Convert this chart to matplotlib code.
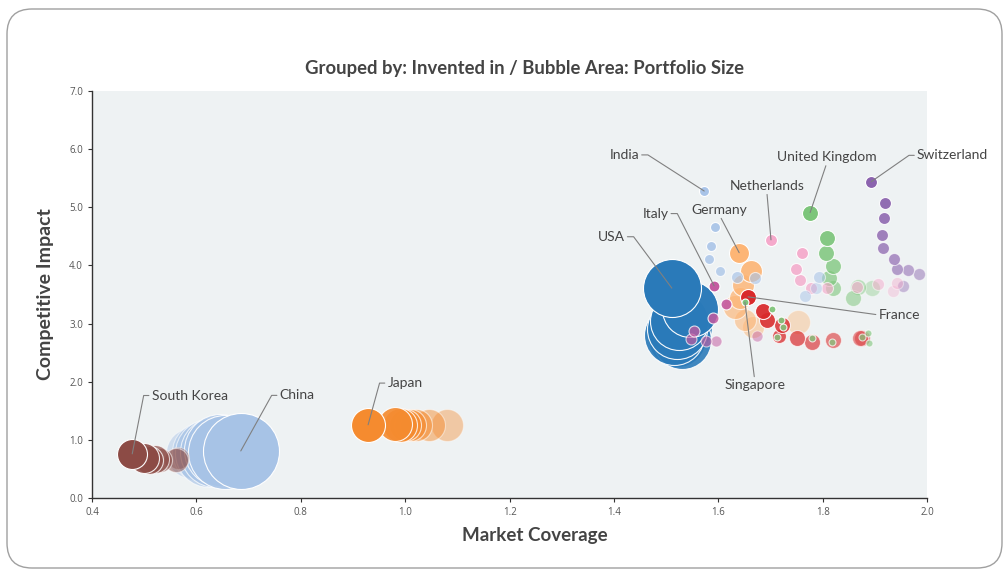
import numpy as np
import matplotlib
matplotlib.use("Agg")
import matplotlib.pyplot as plt
from matplotlib.patches import FancyBboxPatch

plt.rcParams["font.family"] = ["Lato", "DejaVu Sans"]

# ---- data: one small set of arrays per "invented in" group ----
usa_x = [1.511, 1.545, 1.525, 1.52, 1.515, 1.53, 1.52, 1.535]
usa_y = [3.61, 3.25, 3.05, 2.90, 2.80, 2.72, 2.75, 2.95]
usa_size = [841, 784, 841, 900, 900, 841, 841, 784]

china_x = [0.685, 0.655, 0.645, 0.635, 0.625, 0.61, 0.59]
china_y = [0.81, 0.80, 0.82, 0.80, 0.78, 0.80, 0.78]
china_size = [1444, 1369, 1296, 1225, 1156, 900, 625]

korea_x = [0.477, 0.50, 0.51, 0.52, 0.53, 0.56, 0.565]
korea_y = [0.76, 0.68, 0.66, 0.67, 0.65, 0.65, 0.68]
korea_size = [225, 225, 196, 196, 144, 144, 121]

japan_x = [0.929, 0.98, 0.99, 1.0, 1.01, 1.02, 1.045, 1.08]
japan_y = [1.26, 1.27, 1.26, 1.26, 1.25, 1.26, 1.25, 1.26]
japan_size = [289, 289, 289, 256, 256, 256, 256, 256]

india_x = [1.573, 1.594, 1.586, 1.582, 1.603, 1.636, 1.670, 1.793, 1.766, 1.787]
india_y = [5.28, 4.66, 4.34, 4.11, 3.91, 3.80, 3.79, 3.80, 3.48, 3.61]
india_size = [25, 25, 25, 25, 25, 36, 36, 36, 36, 36]

germany_x = [1.640, 1.663, 1.647, 1.642, 1.632, 1.651, 1.667, 1.753]
germany_y = [4.22, 3.91, 3.67, 3.44, 3.29, 3.06, 2.94, 3.03]
germany_size = [100, 121, 121, 121, 144, 121, 121, 144]

france_x = [1.657, 1.686, 1.693, 1.722, 1.716, 1.751, 1.78, 1.82, 1.872, 1.876]
france_y = [3.46, 3.22, 3.06, 2.98, 2.79, 2.75, 2.69, 2.72, 2.75, 2.76]
france_size = [64, 64, 64, 64, 49, 64, 64, 64, 64, 64]

singapore_x = [1.651, 1.703, 1.720, 1.724, 1.712, 1.78, 1.818, 1.875, 1.887, 1.889]
singapore_y = [3.37, 3.25, 3.06, 2.94, 2.77, 2.75, 2.69, 2.77, 2.84, 2.67]
singapore_size = [12, 12, 12, 12, 12, 12, 12, 12, 12, 12]

italy_x = [1.592, 1.615, 1.590, 1.553, 1.548, 1.576, 1.596, 1.674]
italy_y = [3.65, 3.34, 3.10, 2.87, 2.74, 2.70, 2.70, 2.79]
italy_size = [30, 30, 30, 30, 30, 30, 30, 30]

netherlands_x = [1.701, 1.760, 1.749, 1.757, 1.778, 1.808, 1.866, 1.906, 1.942, 1.935]
netherlands_y = [4.44, 4.22, 3.94, 3.75, 3.61, 3.61, 3.63, 3.68, 3.70, 3.56]
netherlands_size = [36, 36, 36, 36, 36, 36, 36, 36, 36, 36]

uk_x = [1.776, 1.809, 1.807, 1.820, 1.813, 1.820, 1.858, 1.867, 1.894]
uk_y = [4.91, 4.48, 4.22, 3.99, 3.79, 3.61, 3.44, 3.63, 3.61]
uk_size = [64, 64, 64, 64, 64, 64, 64, 64, 64]

swiss_x = [1.893, 1.919, 1.917, 1.914, 1.916, 1.937, 1.942, 1.964, 1.985, 1.953]
swiss_y = [5.44, 5.08, 4.82, 4.53, 4.30, 4.11, 3.94, 3.92, 3.86, 3.65]
swiss_size = [36, 36, 36, 36, 36, 36, 36, 36, 36, 36]

x_ticks = [0.4, 0.6, 0.8, 1.0, 1.2, 1.4, 1.6, 1.8, 2.0]
y_ticks = [0, 1, 2, 3, 4, 5, 6, 7]

# (name, x, y, size, colour, min alpha, label offset in points, label ha, leader style)
groups = [
    ("China", china_x, china_y, china_size, "#a7c3e6", 0.45, (28, 40), "left", "left"),
    ("South Korea", korea_x, korea_y, korea_size, "#8c4b45", 0.4, (14, 42), "left", "left"),
    ("Japan", japan_x, japan_y, japan_size, "#f58b2f", 0.4, (14, 30), "left", "left"),
    ("USA", usa_x, usa_y, usa_size, "#2a7ab9", 0.85, (-34, 37), "right", "right"),
    ("Germany", germany_x, germany_y, germany_size, "#fdb575", 0.4, (-14, 31), "center", "down"),
    ("Switzerland", swiss_x, swiss_y, swiss_size, "#8b63ae", 0.4, (33, 19), "left", "left2"),
    ("United Kingdom", uk_x, uk_y, uk_size, "#7cc57a", 0.35, (12, 40), "center", "down"),
    ("Netherlands", netherlands_x, netherlands_y, netherlands_size, "#f5a9cb", 0.35, (-3, 39), "center", "down"),
    ("India", india_x, india_y, india_size, "#a9c4e8", 0.45, (-47, 26), "right", "right"),
    ("Italy", italy_x, italy_y, italy_size, "#c45aa0", 0.45, (-33, 52), "right", "right"),
    ("France", france_x, france_y, france_size, "#d9292b", 0.45, (94, -13), "left", "fr"),
    ("Singapore", singapore_x, singapore_y, singapore_size, "#80c57c", 0.6, (7, -60), "center", "up"),
]

fig = plt.figure(figsize=(10.06, 5.71), dpi=100)

# rounded outer frame
frame = FancyBboxPatch((0.07, 0.03), 9.95, 5.59, boxstyle="round,pad=0,rounding_size=0.25",
                       transform=fig.dpi_scale_trans, facecolor="white", edgecolor="#a0a0a0",
                       linewidth=1.0, zorder=-10)
fig.patches.append(frame)

ax = fig.add_axes([0.0915, 0.1278, 0.83, 0.7128])
ax.set_facecolor("#eef2f3")
ax.set_xlim(0.4, 2.0)
ax.set_ylim(0, 7)

px_to_pt = 0.72  # 1 px at 100 dpi
for name, xs, ys, sizes, color, amin, off, ha, style in groups:
    n = len(xs)
    alphas = np.linspace(1.0, amin, n)
    # draw faded bubbles first so the leading bubble sits on top
    for i in range(n - 1, -1, -1):
        s = sizes[i] * (2 * px_to_pt) ** 2
        ax.scatter(xs[i], ys[i], s=s, color=color, alpha=alphas[i],
                   edgecolors="white", linewidths=0.8, zorder=3)

    if style == "right":
        rel, cs = (1, 0.5), "arc,angleA=0,armA=9,angleB=0,armB=0,rad=0"
    elif style in ("left", "left2"):
        rel, cs = (0, 0.5), "arc,angleA=180,armA=8,angleB=0,armB=0,rad=0"
    elif style == "fr":
        rel, cs = (0, 0.5), "arc3,rad=0"
    elif style == "down":
        rel, cs = (0.5, 0), "arc3,rad=0"
    else:
        rel, cs = (0.5, 1), "arc3,rad=0"
    ax.annotate(name, xy=(xs[0], ys[0]), xytext=off, textcoords="offset points",
                ha=ha, va="center", fontsize=10, color="#444444", zorder=6,
                arrowprops=dict(arrowstyle="-", color="#808080", lw=0.8,
                                shrinkA=0, shrinkB=0, relpos=rel, connectionstyle=cs))

ax.set_xticks(x_ticks)
ax.set_xticklabels(["{:.1f}".format(v) for v in x_ticks], fontfamily="Open Sans")
ax.set_yticks(y_ticks)
ax.set_yticklabels(["{:.1f}".format(v) for v in y_ticks], fontfamily="Open Sans")
ax.tick_params(labelsize=7, colors="#555555", length=3, width=0.8)
ax.tick_params(axis="both", color="#333333")
for side in ("top", "right"):
    ax.spines[side].set_visible(False)
for side in ("left", "bottom"):
    ax.spines[side].set_color("#333333")
    ax.spines[side].set_linewidth(1.0)

ax.set_xlabel("Market Coverage", fontsize=13.5, fontweight="bold", color="#444444")
ax.xaxis.set_label_coords(0.53, -0.07)
ax.set_ylabel("Competitive Impact", fontsize=14, fontweight="bold", color="#444444")
ax.yaxis.set_label_coords(-0.045, 0.5)
fig.text(0.521, 0.88, "Grouped by: Invented in / Bubble Area: Portfolio Size",
         ha="center", va="center", fontsize=13.3, fontweight="bold", color="#444444")

fig.savefig("out.png", dpi=100)
